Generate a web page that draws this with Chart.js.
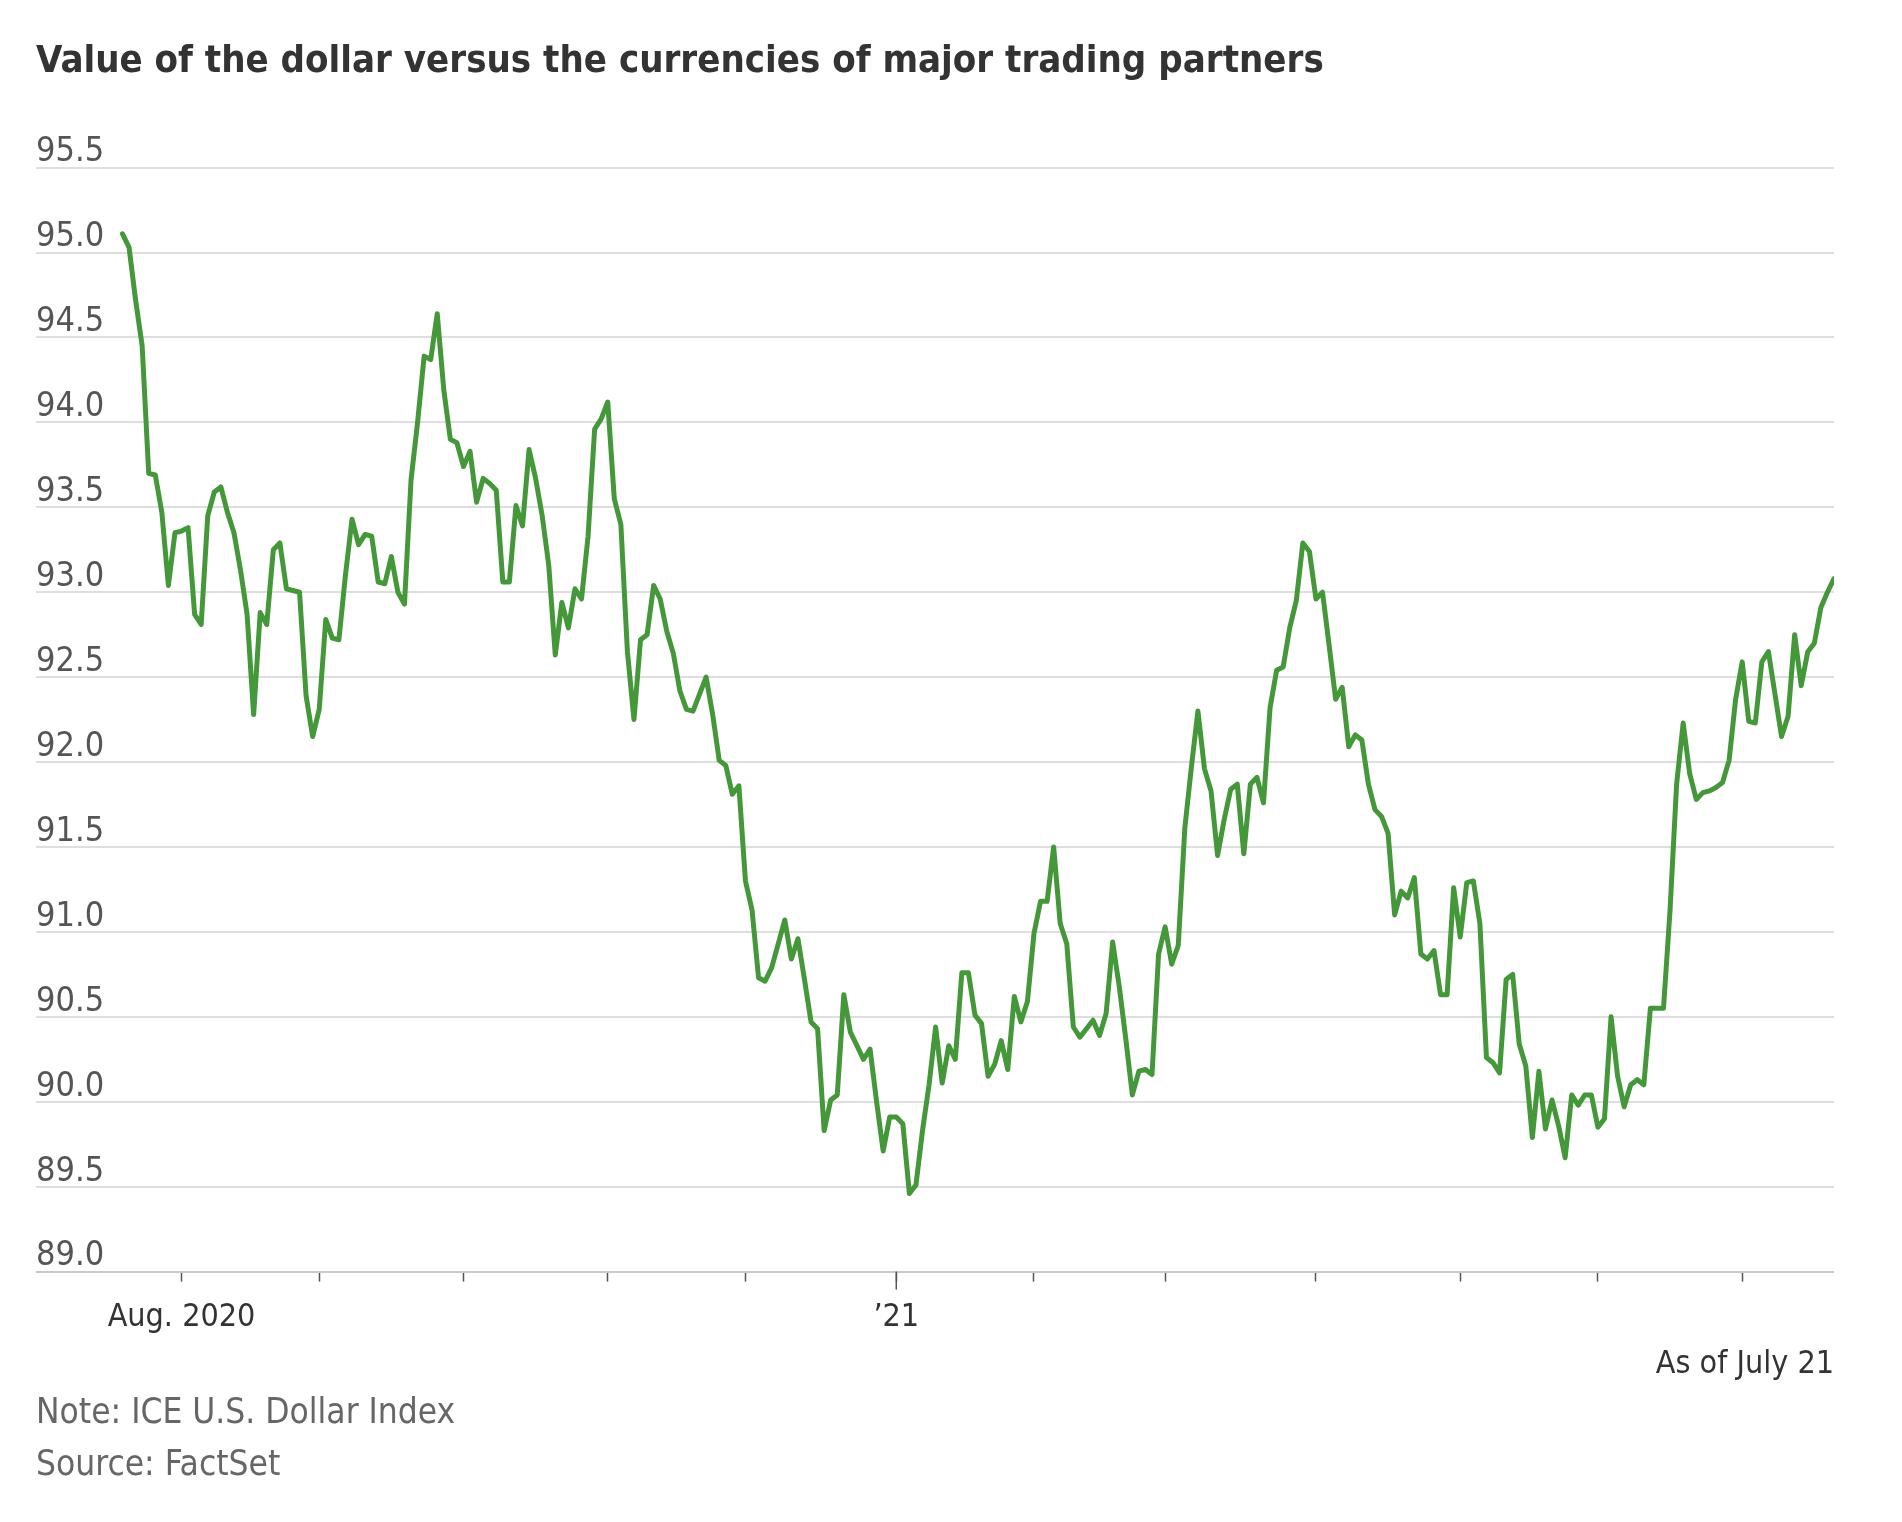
<!DOCTYPE html>
<html>
<head>
<meta charset="utf-8">
<script src="https://cdn.jsdelivr.net/npm/chart.js@4.4.1/dist/chart.umd.min.js"></script>
<style>
  html, body { margin: 0; padding: 0; background: #ffffff; }
  canvas { display: block; }
</style>
</head>
<body>
<canvas id="chart" width="1902" height="1522"></canvas>
<script>
// ---------------- data ----------------
const titleText  = 'Value of the dollar versus the currencies of major trading partners';
const asOfText   = 'As of July 21';
const noteText   = 'Note: ICE U.S. Dollar Index';
const sourceText = 'Source: FactSet';

// Y-axis range / tick step
const yMin = 89.0;
const yMax = 95.5;
const yStep = 0.5;

// Index (weekday number since July 21, 2020) of the first weekday of each month, and its label
const monthTickIndex  = [9, 30, 52, 74, 95, 118, 139, 159, 182, 204, 225, 247];
const monthTickLabels = ['Aug. 2020', '', '', '', '', '\u201921', '', '', '', '', '', ''];

// ICE U.S. Dollar Index, daily (weekdays), July 21, 2020 - July 21, 2021
const dollarIndex = [
  95.11, 95.03, 94.72, 94.45, 93.70, 93.69, 93.47, 93.04, 93.35, 93.36,
  93.38, 92.87, 92.81, 93.45, 93.59, 93.62, 93.47, 93.35, 93.13, 92.87,
  92.28, 92.88, 92.81, 93.25, 93.29, 93.02, 93.01, 93.00, 92.39, 92.15,
  92.31, 92.84, 92.73, 92.72, 93.10, 93.43, 93.28, 93.34, 93.33, 93.06,
  93.05, 93.21, 93.00, 92.93, 93.66, 94.00, 94.39, 94.37, 94.64, 94.19,
  93.90, 93.88, 93.74, 93.83, 93.53, 93.67, 93.64, 93.60, 93.06, 93.06,
  93.51, 93.39, 93.84, 93.67, 93.45, 93.16, 92.63, 92.94, 92.79, 93.02,
  92.96, 93.33, 93.96, 94.02, 94.12, 93.55, 93.40, 92.65, 92.25, 92.72,
  92.75, 93.04, 92.96, 92.77, 92.64, 92.42, 92.31, 92.30, 92.40, 92.50,
  92.28, 92.01, 91.98, 91.81, 91.86, 91.30, 91.13, 90.73, 90.71, 90.79,
  90.93, 91.07, 90.84, 90.96, 90.72, 90.47, 90.43, 89.83, 90.01, 90.04,
  90.63, 90.41, 90.33, 90.25, 90.31, 90.00, 89.71, 89.91, 89.91, 89.87,
  89.46, 89.51, 89.83, 90.10, 90.44, 90.11, 90.33, 90.25, 90.76, 90.76,
  90.51, 90.46, 90.15, 90.22, 90.36, 90.19, 90.62, 90.47, 90.59, 90.99,
  91.18, 91.18, 91.50, 91.05, 90.93, 90.44, 90.38, 90.43, 90.48, 90.39,
  90.52, 90.94, 90.68, 90.37, 90.04, 90.18, 90.19, 90.16, 90.87, 91.03,
  90.81, 90.92, 91.61, 91.97, 92.30, 91.96, 91.83, 91.45, 91.66, 91.84,
  91.87, 91.46, 91.87, 91.91, 91.76, 92.32, 92.54, 92.56, 92.79, 92.95,
  93.29, 93.24, 92.96, 93.00, 92.69, 92.37, 92.44, 92.09, 92.16, 92.13,
  91.87, 91.72, 91.68, 91.58, 91.10, 91.24, 91.20, 91.32, 90.87, 90.84,
  90.89, 90.63, 90.63, 91.26, 90.97, 91.29, 91.30, 91.05, 90.26, 90.23,
  90.17, 90.72, 90.75, 90.34, 90.21, 89.79, 90.18, 89.84, 90.01, 89.86,
  89.67, 90.04, 89.98, 90.04, 90.04, 89.85, 89.90, 90.50, 90.15, 89.97,
  90.10, 90.13, 90.10, 90.55, 90.55, 90.55, 91.13, 91.87, 92.23, 91.93,
  91.78, 91.82, 91.83, 91.85, 91.88, 92.01, 92.37, 92.59, 92.24, 92.23,
  92.59, 92.65, 92.40, 92.15, 92.27, 92.75, 92.45, 92.65, 92.70, 92.91,
  93.00, 93.08
];

// ---------------- styling ----------------
const FONT = '"Liberation Sans Narrow", "Arial Narrow", "DejaVu Sans Condensed", "Roboto Condensed", "Liberation Sans", sans-serif';
const LINE_COLOR = '#45983a';

// Footer texts and the longer year tick, drawn relative to the chart area
const footerPlugin = {
  id: 'footerNotes',
  afterDraw(chart) {
    const { ctx, chartArea, scales } = chart;
    ctx.save();
    // longer tick for the year boundary
    const yearIdx = monthTickLabels.findIndex(l => l !== '' && l !== 'Aug. 2020');
    const xp = scales.x.getPixelForValue(monthTickIndex[yearIdx]);
    ctx.strokeStyle = '#555';
    ctx.lineWidth = 1.5;
    ctx.beginPath();
    ctx.moveTo(xp, chartArea.bottom);
    ctx.lineTo(xp, chartArea.bottom + 18);
    ctx.stroke();

    ctx.textBaseline = 'alphabetic';
    ctx.font = '32px ' + FONT;
    ctx.fillStyle = '#333';
    ctx.textAlign = 'right';
    ctx.fillText(asOfText, chartArea.right, chartArea.bottom + 101);
    ctx.font = '35px ' + FONT;
    ctx.textAlign = 'left';
    ctx.fillStyle = '#666';
    ctx.fillText(noteText, chartArea.left, chartArea.bottom + 151);
    ctx.fillText(sourceText, chartArea.left, chartArea.bottom + 203);
    ctx.restore();
  }
};

new Chart(document.getElementById('chart').getContext('2d'), {
  type: 'line',
  data: {
    datasets: [{
      label: 'ICE U.S. Dollar Index',
      data: dollarIndex.map((v, i) => ({ x: i, y: v })),
      borderColor: LINE_COLOR,
      borderWidth: 5,
      pointRadius: 0,
      tension: 0,
      fill: false,
      borderJoinStyle: 'round',
      borderCapStyle: 'round'
    }]
  },
  options: {
    responsive: false,
    devicePixelRatio: 1,
    animation: false,
    layout: { padding: { left: 36, right: 68, top: 0, bottom: 168 } },
    plugins: {
      legend: { display: false },
      tooltip: { enabled: false },
      title: {
        display: true,
        text: titleText,
        align: 'start',
        color: '#333',
        font: { family: FONT, size: 38, weight: 'bold' },
        padding: { top: 39, bottom: 83 }
      }
    },
    scales: {
      x: {
        type: 'linear',
        min: -13.19,
        max: dollarIndex.length - 1,
        afterBuildTicks: (scale) => { scale.ticks = monthTickIndex.map(v => ({ value: v })); },
        ticks: {
          autoSkip: false,
          maxRotation: 0,
          padding: 17,
          color: '#333',
          font: { family: FONT, size: 32 },
          callback: (v) => {
            const k = monthTickIndex.indexOf(v);
            return k >= 0 ? monthTickLabels[k] : '';
          }
        },
        grid: {
          drawOnChartArea: false,
          drawTicks: true,
          tickLength: 10,
          tickColor: '#555',
          tickWidth: 1.5
        },
        border: { display: false }
      },
      y: {
        min: yMin,
        max: yMax,
        ticks: {
          stepSize: yStep,
          mirror: true,
          padding: 0,
          labelOffset: -15,
          color: '#555',
          font: { family: FONT, size: 34 },
          callback: (v) => Number(v).toFixed(1)
        },
        grid: {
          color: (c) => (c.tick && c.tick.value === yMin) ? '#c9c9c9' : '#dedede',
          lineWidth: 2,
          drawTicks: false
        },
        border: { display: false }
      }
    }
  },
  plugins: [footerPlugin]
});
</script>
</body>
</html>
